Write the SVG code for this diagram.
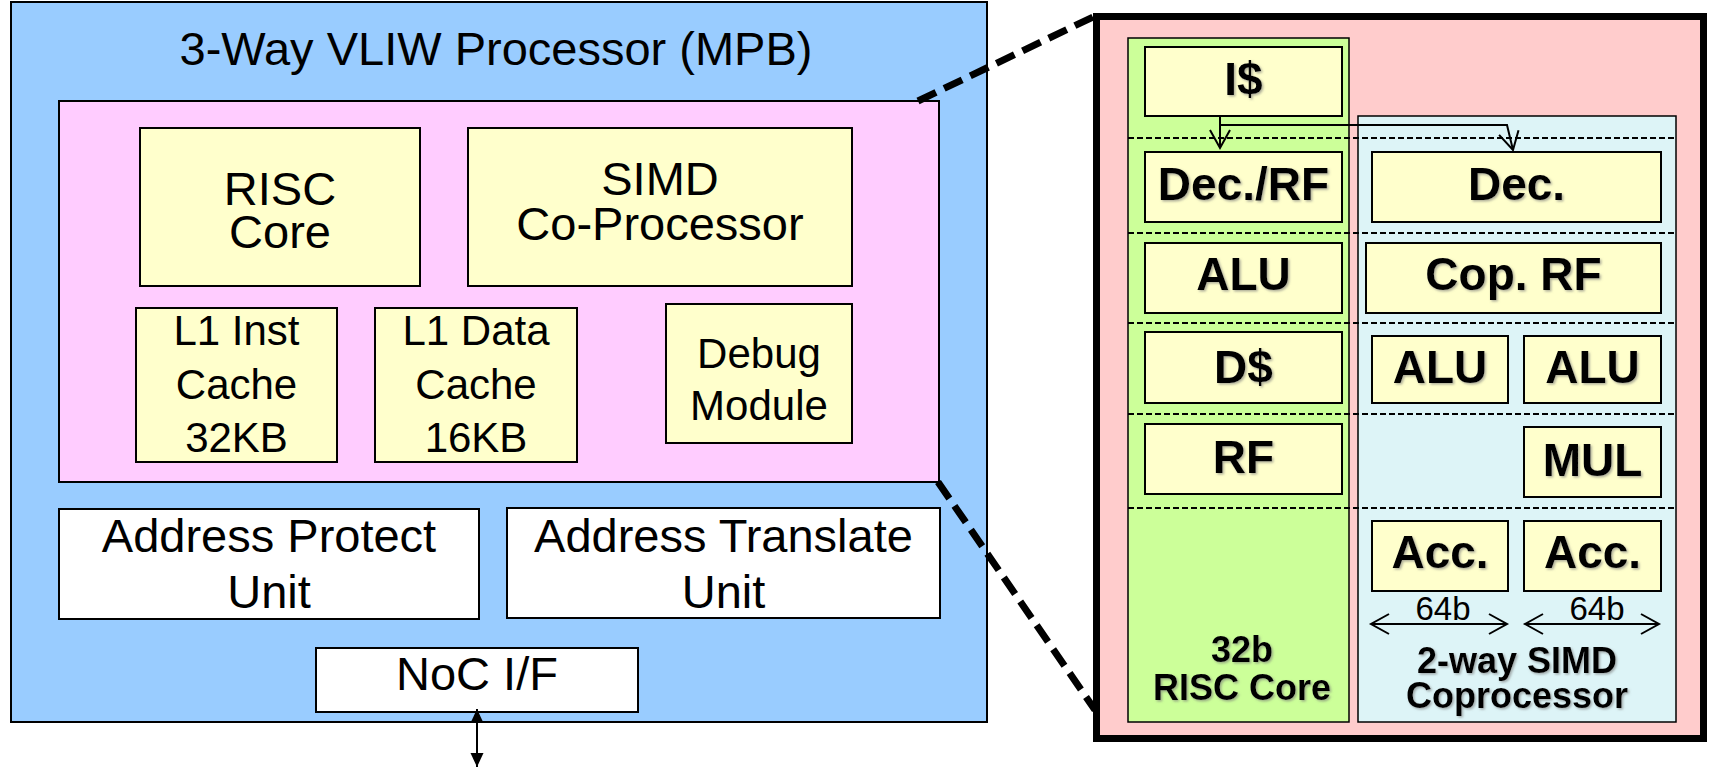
<svg xmlns="http://www.w3.org/2000/svg" width="1710" height="768" viewBox="0 0 1710 768">
<style>
.t{font-family:"Liberation Sans",Arial,sans-serif;text-anchor:middle;fill:#000}
.n47{font-size:47px}
.n42{font-size:42px}
.b46{font-size:46px;font-weight:bold}
.b36{font-size:36px;font-weight:bold}
.n33{font-size:33px}
.box{stroke:#000;stroke-width:2}
.yel{fill:#FFFFCC}
.wht{fill:#FFFFFF}
.thin{stroke:#000;stroke-width:1.5}
.dash{stroke:#000;stroke-width:2;stroke-dasharray:6 3;fill:none}
.big{stroke:#000;stroke-width:7;stroke-dasharray:20 9;fill:none}
.ln{stroke:#000;stroke-width:2;fill:none}
.sh{filter:url(#shadow)}
</style>
<defs>
<filter id="shadow" x="-10%" y="-10%" width="130%" height="140%">
<feDropShadow dx="1.5" dy="1.5" stdDeviation="0.8" flood-color="#777" flood-opacity="0.6"/>
</filter>
<marker id="chev" viewBox="-21 -13 24 26" refX="0" refY="0" markerWidth="24" markerHeight="26" markerUnits="userSpaceOnUse" orient="auto-start-reverse">
<path d="M-18,-10 L0,0 L-18,10" fill="none" stroke="#000" stroke-width="2"/>
</marker>
<marker id="tri" viewBox="-15 -8 16 16" refX="0" refY="0" markerWidth="16" markerHeight="16" markerUnits="userSpaceOnUse" orient="auto-start-reverse">
<path d="M-14,-6.5 L0,0 L-14,6.5 Z" fill="#000"/>
</marker>
</defs>
<rect width="1710" height="768" fill="#FFFFFF"/>

<g id="mpb">
<rect x="11" y="2" width="976" height="720" fill="#99CCFF" class="box"/>
<text class="t n47" x="496" y="65">3-Way VLIW Processor (MPB)</text>
</g>
<g id="core-area">
<rect x="59" y="101" width="880" height="381" fill="#FFCCFF" class="box"/>
</g>
<g id="risc-core">
<rect x="140" y="128" width="280" height="158" class="box yel"/>
<text class="t n47" x="280" y="205">RISC</text>
<text class="t n47" x="280" y="248">Core</text>
</g>
<g id="simd-coproc">
<rect x="468" y="128" width="384" height="158" class="box yel"/>
<text class="t n47" x="660" y="195">SIMD</text>
<text class="t n47" x="660" y="240">Co-Processor</text>
</g>
<g id="l1-inst">
<rect x="136" y="308" width="201" height="154" class="box yel"/>
<text class="t n42" x="236.5" y="345">L1 Inst</text>
<text class="t n42" x="236.5" y="399">Cache</text>
<text class="t n42" x="236.5" y="452">32KB</text>
</g>
<g id="l1-data">
<rect x="375" y="308" width="202" height="154" class="box yel"/>
<text class="t n42" x="476" y="345">L1 Data</text>
<text class="t n42" x="476" y="399">Cache</text>
<text class="t n42" x="476" y="452">16KB</text>
</g>
<g id="debug">
<rect x="666" y="304" width="186" height="139" class="box yel"/>
<text class="t n42" x="759" y="368">Debug</text>
<text class="t n42" x="759" y="420">Module</text>
</g>
<g id="apu">
<rect x="59" y="509" width="420" height="110" class="box wht"/>
<text class="t n47" x="269" y="552">Address Protect</text>
<text class="t n47" x="269" y="608">Unit</text>
</g>
<g id="atu">
<rect x="507" y="508" width="433" height="110" class="box wht"/>
<text class="t n47" x="723.5" y="552">Address Translate</text>
<text class="t n47" x="723.5" y="608">Unit</text>
</g>
<g id="noc">
<rect x="316" y="648" width="322" height="64" class="box wht"/>
<text class="t n47" x="477" y="690">NoC I/F</text>
</g>

<g id="detail">
<rect x="1096.5" y="16.5" width="607" height="722" fill="#FFCCCC" stroke="#000" stroke-width="7"/>
</g>
<g id="risc-col">
<rect x="1128" y="38" width="221" height="684" fill="#CCFF99" class="thin"/>
</g>
<g id="simd-col">
<rect x="1358" y="116" width="318" height="606" fill="#DDF4F7" class="thin"/>
</g>
<g id="stages">
<line class="dash" x1="1128" y1="138" x2="1676" y2="138"/>
<line class="dash" x1="1128" y1="233" x2="1676" y2="233"/>
<line class="dash" x1="1128" y1="323" x2="1676" y2="323"/>
<line class="dash" x1="1128" y1="414" x2="1676" y2="414"/>
<line class="dash" x1="1128" y1="508" x2="1676" y2="508"/>
</g>
<g id="icache">
<rect x="1145" y="47" width="197" height="69" class="box yel"/>
<text class="t b46 sh" x="1243.5" y="95">I$</text>
</g>
<g id="decrf">
<rect x="1145" y="152" width="197" height="70" class="box yel"/>
<text class="t b46 sh" x="1243.5" y="200">Dec./RF</text>
</g>
<g id="alu-r">
<rect x="1145" y="243" width="197" height="70" class="box yel"/>
<text class="t b46 sh" x="1243.5" y="290">ALU</text>
</g>
<g id="dcache">
<rect x="1145" y="332" width="197" height="71" class="box yel"/>
<text class="t b46 sh" x="1243.5" y="383">D$</text>
</g>
<g id="rf">
<rect x="1145" y="424" width="197" height="70" class="box yel"/>
<text class="t b46 sh" x="1243.5" y="473">RF</text>
</g>
<g id="dec">
<rect x="1372" y="152" width="289" height="70" class="box yel"/>
<text class="t b46 sh" x="1516.5" y="200">Dec.</text>
</g>
<g id="coprf">
<rect x="1366" y="243" width="295" height="70" class="box yel"/>
<text class="t b46 sh" x="1513.5" y="290">Cop. RF</text>
</g>
<g id="alu1">
<rect x="1372" y="336" width="136" height="67" class="box yel"/>
<text class="t b46 sh" x="1440" y="383">ALU</text>
</g>
<g id="alu2">
<rect x="1524" y="336" width="137" height="67" class="box yel"/>
<text class="t b46 sh" x="1592.5" y="383">ALU</text>
</g>
<g id="mul">
<rect x="1524" y="427" width="137" height="70" class="box yel"/>
<text class="t b46 sh" x="1592.5" y="476">MUL</text>
</g>
<g id="acc1">
<rect x="1372" y="521" width="136" height="70" class="box yel"/>
<text class="t b46 sh" x="1440" y="568">Acc.</text>
</g>
<g id="acc2">
<rect x="1524" y="521" width="137" height="70" class="box yel"/>
<text class="t b46 sh" x="1592.5" y="568">Acc.</text>
</g>
<g id="labels">
<text class="t n33" x="1443" y="620">64b</text>
<text class="t n33" x="1597" y="620">64b</text>
<text class="t b36 sh" x="1242" y="662">32b</text>
<text class="t b36 sh" x="1242" y="700">RISC Core</text>
<text class="t b36 sh" x="1517" y="673">2-way SIMD</text>
<text class="t b36 sh" x="1517" y="708">Coprocessor</text>
</g>

<g id="connectors">
<line class="big" x1="918" y1="101" x2="1093" y2="17"/>
<line class="big" x1="938" y1="482" x2="1095" y2="710"/>
<line x1="477" y1="709" x2="477" y2="767" stroke="#000" stroke-width="2" marker-start="url(#tri)" marker-end="url(#tri)"/>
<path class="ln" d="M1220,116 V148" marker-end="url(#chev)"/>
<path class="ln" d="M1220,125 H1507 L1513,150" marker-end="url(#chev)"/>
<line class="ln" x1="1371" y1="624" x2="1507" y2="624" marker-start="url(#chev)" marker-end="url(#chev)"/>
<line class="ln" x1="1525" y1="624" x2="1659" y2="624" marker-start="url(#chev)" marker-end="url(#chev)"/>
</g>
</svg>
